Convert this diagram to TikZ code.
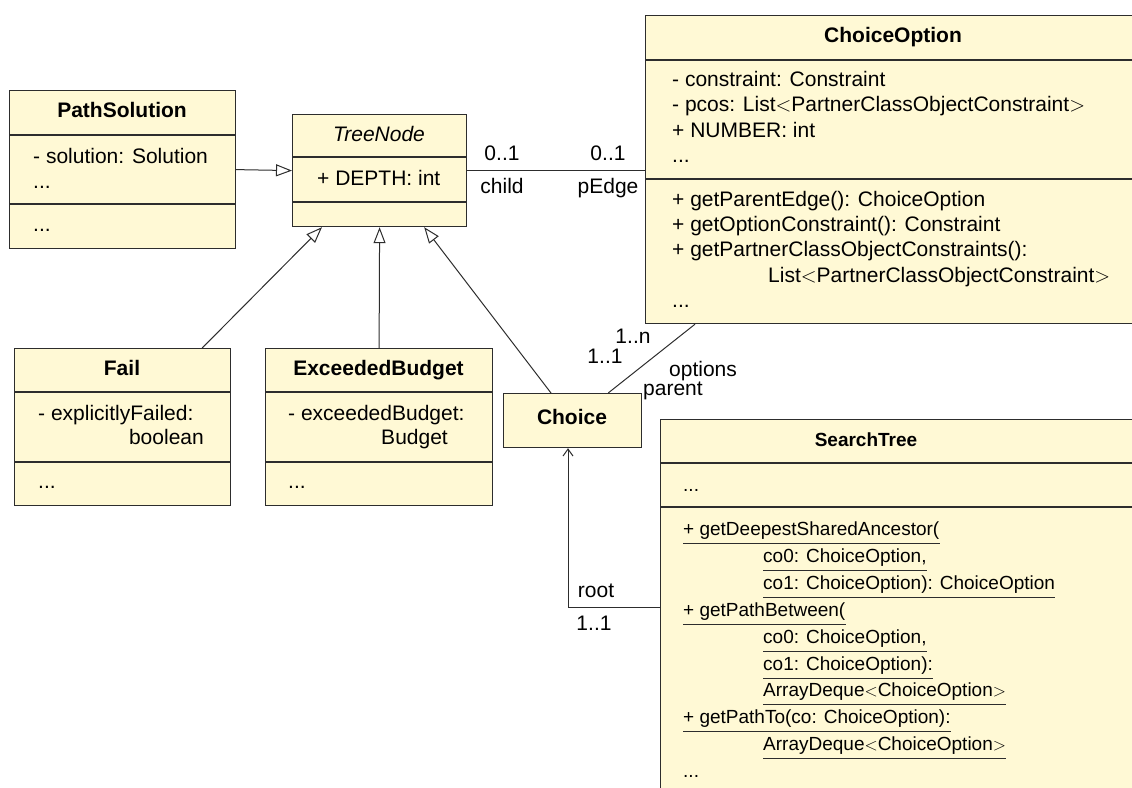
\documentclass[tikz,border=0pt]{standalone}
\usepackage{fontspec}
\setmainfont{Liberation Sans}
\usetikzlibrary{arrows.meta}
\definecolor{boxfill}{RGB}{255,249,213}
\definecolor{edgecol}{RGB}{45,45,45}
\newcommand\fsA{\fontsize{21}{25}\selectfont}
\newcommand\fsB{\fontsize{19}{23}\selectfont}
\begin{document}
\begin{tikzpicture}[x=1pt,y=-1pt,
 cls/.style={draw=edgecol, fill=boxfill, line width=1.2pt, inner sep=0pt, anchor=north west},
 div/.style={draw=edgecol, line width=1.2pt},
 t/.style={inner sep=0pt, anchor=base west, font=\fsA},
 tc/.style={inner sep=0pt, anchor=base, font=\fsA},
 tr/.style={inner sep=0pt, anchor=base east, font=\fsA},
 ttl/.style={inner sep=0pt, anchor=base, font=\fsA\bfseries},
 s/.style={inner sep=0pt, anchor=base west, font=\fsB},
 gen/.style={draw=edgecol, line width=1pt, -{Triangle[length=16pt,width=12pt,fill=white,line width=1pt]}},
 assoc/.style={draw=edgecol, line width=1pt},
 nav/.style={draw=edgecol, line width=1pt, -{Straight Barb[length=7pt,width=10pt,line width=1pt]}},
 ul/.style={draw=edgecol, line width=1pt}]
\useasboundingbox (0,0) rectangle (1132,787);
\clip (0,0) rectangle (1132,787);

% ---------- PathSolution
\node[cls, minimum width=226pt, minimum height=158pt] (ps) at (9,90) {};
\draw[div] (9,135) -- (235,135);
\draw[div] (9,204) -- (235,204);
\node[ttl] (psT) at (122,117) {PathSolution};
\node[t] (psA1) at (33,163) {- solution: Solution};
\node[t] (psA2) at (33,188) {...};
\node[t] (psM1) at (33,231) {...};

% ---------- TreeNode
\node[cls, minimum width=174pt, minimum height=112pt] (tn) at (292,114) {};
\draw[div] (292,157) -- (466,157);
\draw[div] (292,202) -- (466,202);
\node[tc, font=\fsA\itshape] (tnT) at (379,141) {TreeNode};
\node[t] (tnA1) at (317,185) {+ DEPTH: int};

% ---------- ChoiceOption
\node[cls, minimum width=496pt, minimum height=308pt] (co) at (645,15) {};
\draw[div] (645,60) -- (1141,60);
\draw[div] (645,179) -- (1141,179);
\node[ttl] (coT) at (893,42) {ChoiceOption};
\node[t] (coA1) at (672,86) {- constraint: Constraint};
\node[t] (coA2) at (672,111.5) {- pcos: List$<$PartnerClassObjectConstraint$>$};
\node[t] (coA3) at (672,137) {+ NUMBER: int};
\node[t] (coA4) at (672,162) {...};
\node[t] (coM1) at (672,206) {+ getParentEdge(): ChoiceOption};
\node[t] (coM2) at (672,231) {+ getOptionConstraint(): Constraint};
\node[t] (coM3) at (672,256) {+ getPartnerClassObjectConstraints():};
\node[t] (coM4) at (768,282) {List$<$PartnerClassObjectConstraint$>$};
\node[t] (coM5) at (672,307) {...};

% ---------- Fail
\node[cls, minimum width=216pt, minimum height=157pt] (fl) at (14,348) {};
\draw[div] (14,392) -- (230,392);
\draw[div] (14,462) -- (230,462);
\node[ttl] (flT) at (122,375) {Fail};
\node[t] (flA1) at (38,420) {- explicitlyFailed:};
\node[tr] (flA2) at (204,444) {boolean};
\node[t] (flM1) at (38,488) {...};

% ---------- ExceededBudget
\node[cls, minimum width=227pt, minimum height=157pt] (eb) at (265,348) {};
\draw[div] (265,392) -- (492,392);
\draw[div] (265,462) -- (492,462);
\node[ttl] (ebT) at (378.5,375) {ExceededBudget};
\node[t] (ebA1) at (288,420) {- exceededBudget:};
\node[tr] (ebA2) at (448,444) {Budget};
\node[t] (ebM1) at (288,488) {...};

% ---------- Choice
\node[cls, minimum width=138pt, minimum height=54pt] (ch) at (503,393) {};
\node[ttl] (chT) at (572,424) {Choice};

% ---------- SearchTree
\node[cls, minimum width=480pt, minimum height=390pt] (st) at (660,419) {};
\draw[div] (660,463) -- (1140,463);
\draw[div] (660,507) -- (1140,507);
\node[inner sep=0pt, anchor=base, font=\fsB\bfseries] (stT) at (866,446) {SearchTree};
\node[s] (stA1) at (683,491) {...};
\node[s] (m1) at (683,535) {+ getDeepestSharedAncestor(};
\node[s] (m2) at (763,562) {co0: ChoiceOption,};
\node[s] (m3) at (763,589) {co1: ChoiceOption): ChoiceOption};
\node[s] (m4) at (683,616) {+ getPathBetween(};
\node[s] (m5) at (763,643) {co0: ChoiceOption,};
\node[s] (m6) at (763,670) {co1: ChoiceOption):};
\node[s] (m7) at (763,696) {ArrayDeque$<$ChoiceOption$>$};
\node[s] (m8) at (683,723) {+ getPathTo(co: ChoiceOption):};
\node[s] (m9) at (763,750) {ArrayDeque$<$ChoiceOption$>$};
\node[s] (m10) at (683,777) {...};
\foreach \m in {m1,m2,m3,m4,m5,m6,m7,m8,m9}
  \draw[ul] ([yshift=-8pt]\m.base west) -- ([yshift=-8pt]\m.base east);

% ---------- connectors
\draw[gen] (ps.east) -- (tn.west);
\draw[gen] ([xshift=-29pt]fl.north east) -- ([xshift=30pt]tn.south west);
\draw[gen] (eb.north) -- (tn.south);
\draw[gen] ([xshift=48pt]ch.north west) -- ([xshift=-43pt]tn.south east);
\draw[assoc] (tn.east) -- (co.west |- tn.east);
\draw[assoc] ([xshift=-34pt]ch.north east) -- ([xshift=50pt]co.south west);
\draw[nav] ([yshift=-188pt]st.north west) -| ([xshift=65pt]ch.south west);

% ---------- association labels
\node[tc] (l01a) at (502,160) {0..1};
\node[tc] (l01b) at (608,160) {0..1};
\node[tc] (lchild) at (502,193) {child};
\node[tc] (lpedge) at (608,193) {pEdge};
\node[tc] (l1n) at (633,343) {1..n};
\node[tc] (l11a) at (605,363) {1..1};
\node[t] (lopt) at (669,376) {options};
\node[t] (lpar) at (643,395) {parent};
\node[tc] (lroot) at (596,597) {root};
\node[tc] (l11b) at (594,630) {1..1};
\end{tikzpicture}
\end{document}
